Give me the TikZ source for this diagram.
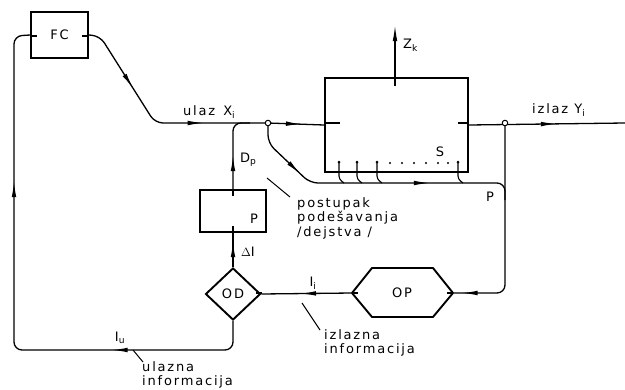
\documentclass[tikz,border=0pt]{standalone}
\usepackage{fontspec}
\newfontfamily\labfont[LetterSpace=14]{DejaVu Sans}
\usetikzlibrary{shapes.geometric,decorations.markings,arrows.meta}
\begin{document}
\begin{tikzpicture}[x=1pt,y=-1pt,
  conn/.style={line width=1.3pt, rounded corners=8pt},
  tick/.style={line width=1.3pt},
  boxst/.style={draw, line width=1.9pt, inner sep=0pt},
  lbl/.style={font=\labfont\fontsize{13}{14.5}\selectfont, inner sep=0pt, align=left},
  arrat/.style={postaction={decorate, decoration={markings, mark=at position #1 with {\arrow{Latex[length=16pt,width=4.6pt]}}}}},
  dotj/.style={circle, draw, line width=1pt, fill=white, inner sep=0pt, minimum size=5.5pt},
  sdot/.style={circle, fill=black, inner sep=0pt, minimum size=3pt}
]
\useasboundingbox (0,0) rectangle (625,389);

% blocks
\node[boxst, minimum width=57pt, minimum height=46pt, lbl] (FC) at (59.5,35) {FC};
\node[boxst, minimum width=143pt, minimum height=94pt] (S) at (396.5,125) {};
\node[boxst, minimum width=66pt, minimum height=42pt] (P) at (233,211) {};
\node[diamond, boxst, minimum width=55pt, minimum height=52pt, lbl] (OD) at (233,294) {OD};
\draw[line width=1.9pt, line join=round] (352,293) -- (372,268) -- (433,268) -- (453,293) -- (433,317) -- (372,317) -- cycle;
\node[lbl] (OP) at (402,293) {OP};
\coordinate (OPl) at (352,293);
\coordinate (OPr) at (453,293);

% junctions and coordinates
\coordinate (J1) at (268,123);
\coordinate (J2) at (505,123);
\coordinate (out) at (625,123);
\coordinate (zk) at (395,25);
\coordinate (zkb) at (395,86);

% connectors
\draw[conn, arrat=147pt, arrat=410pt] (OD.south) -- (233,350) -- (14,350) -- (14,36) -- (FC.west);
\draw[conn, arrat=72pt, arrat=160pt] (FC.east) -- (100,36) -- (155,123) -- (J1);
\draw[conn, arrat=34pt] (J1) -- (S.west);
\draw[conn, arrat=34pt] (P.north) -- (233,123) -- (250,123);
\draw[conn, arrat=64pt, arrat=196pt] (J1) -- (268,143) -- (310,183) -- (505,183) -- (505,200);
\draw[conn, arrat=88pt] (S.east) -- (out);
\draw[conn, arrat=210pt] (J2) -- (505,293) -- (OPr);
\draw[conn, arrat=52pt] (OPl) -- (OD.east);
\draw[conn, arrat=26pt] (OD.north) -- (P.south);
\draw[line width=1.3pt, -{Latex[length=16pt,width=4.6pt]}] (zkb) -- (zk);

% short stubs inside blocks
\draw[tick] (31,36) -- (37,36) (82,36) -- (88,36);
\draw[tick] (325,123) -- (340,123) (458,123) -- (468,123);
\draw[tick] (233,190) -- (233,196) (233,226) -- (233,232);
\draw[tick] (256,293) -- (262,293);
\draw[tick] (352,293) -- (358,293) (447,293) -- (453,293);

% sensors
\foreach \sx in {339,357,377,458} {
  \draw[line width=1.1pt, rounded corners=3pt] (\sx,162) -- (\sx,179) -- (\sx+5,183);
  \node[sdot] at (\sx,162) {};
}
\foreach \sx in {390,402,414,426,438,448} \node[sdot, minimum size=2.4pt] at (\sx,163) {};

\node[dotj] at (J1) {};
\node[dotj] at (J2) {};

% leader lines
\draw[line width=1pt] (267,178) -- (290,197);
\draw[line width=1pt] (302,303) -- (320,330);
\draw[line width=1pt] (133,350) -- (143,362);

% labels
\node[lbl, anchor=west] at (183,112) {ulaz\hspace{8pt}X\textsubscript{i}};
\node[lbl, anchor=west] at (532,110) {izlaz\hspace{6pt}Y\textsubscript{i}};
\node[lbl, anchor=west] at (403,45) {Z\textsubscript{k}};
\node[lbl] at (440,152) {S};
\node[lbl, anchor=west] at (240,160) {D\textsubscript{p}};
\node[lbl] at (254,219) {P};
\node[lbl, anchor=west] at (241,252) {$\Delta$I};
\node[lbl] at (313,283) {I\textsubscript{i}};
\node[lbl] at (120,338) {I\textsubscript{u}};
\node[lbl] at (490,197) {P};
\node[lbl, anchor=north west] at (297,197) {postupak\\podešavanja\\/dejstva /};
\node[lbl, anchor=north west] at (324,329) {izlazna\\informacija};
\node[lbl, anchor=north west] at (142,361) {ulazna\\informacija};
\end{tikzpicture}
\end{document}
